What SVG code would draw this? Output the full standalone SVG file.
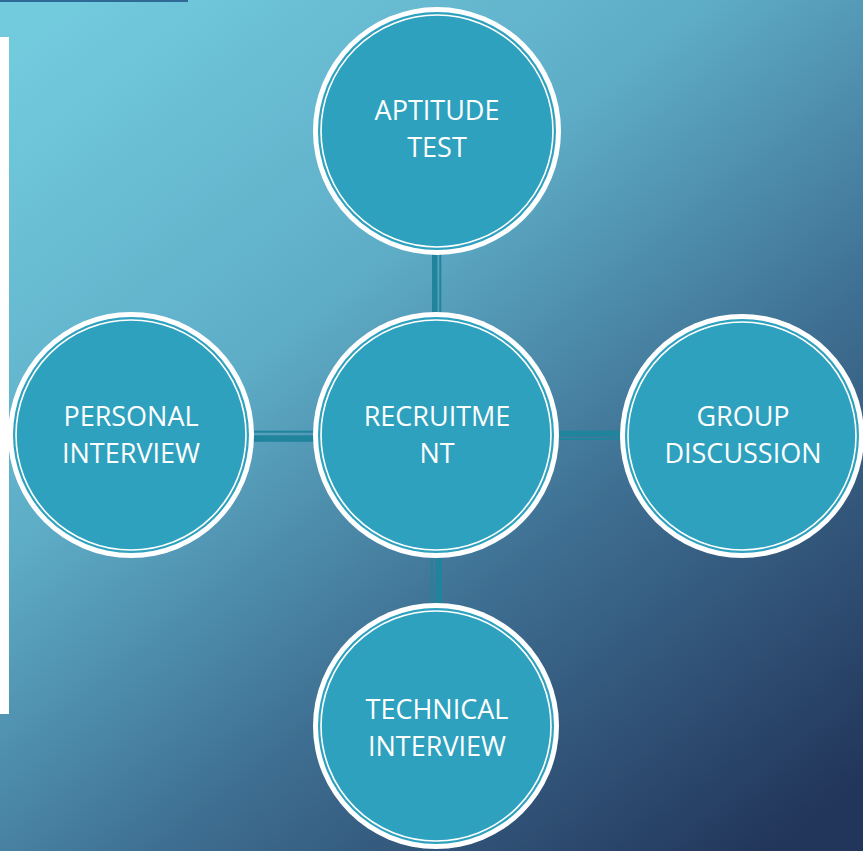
<svg xmlns="http://www.w3.org/2000/svg" width="863" height="851" viewBox="0 0 863 851">
<defs>
<linearGradient id="bg" x1="0.1" y1="0" x2="0.9" y2="1">
<stop offset="0" stop-color="#72cadd"/>
<stop offset="0.35" stop-color="#5eadc7"/>
<stop offset="0.65" stop-color="#3e6f92"/>
<stop offset="1" stop-color="#22355a"/>
</linearGradient>
<style>
.ring{fill:#ffffff}
.gap{fill:#2ea1be}
.inner{fill:none;stroke:#ffffff;stroke-width:1.6}
.lbl{font-family:"Open Sans","DejaVu Sans",sans-serif;font-size:27px;fill:#ffffff;text-anchor:middle}
.con{fill:#1f849c}
</style>
</defs>
<rect width="863" height="851" fill="url(#bg)"/>
<rect x="0" y="0" width="188" height="2" fill="#2f6a96"/>
<rect x="0" y="37" width="9" height="677" fill="#ffffff"/>
<g id="connectors">
<rect class="con" x="432" y="254" width="5.5" height="66"/>
<rect class="con" x="439.3" y="254" width="2" height="66"/>
<rect class="con" x="254" y="430.7" width="66" height="2"/>
<rect class="con" x="254" y="435.3" width="66" height="6.5"/>
<rect class="con" x="554" y="430.7" width="67" height="6"/>
<rect class="con" x="554" y="438" width="67" height="2"/>
<rect class="con" x="431" y="553" width="2" height="54"/>
<rect class="con" x="435.7" y="553" width="6.3" height="54"/>
</g>
<g id="aptitude">
<circle class="ring" cx="437" cy="131" r="124"/>
<circle class="gap" cx="437" cy="131" r="119"/>
<circle class="inner" cx="437" cy="131" r="116"/>
<text class="lbl" x="437" y="120">APTITUDE</text>
<text class="lbl" x="437" y="157">TEST</text>
</g>
<g id="recruitment">
<circle class="ring" cx="436" cy="435" r="123"/>
<circle class="gap" cx="436" cy="435" r="118"/>
<circle class="inner" cx="436" cy="435" r="115"/>
<text class="lbl" x="437" y="426">RECRUITME</text>
<text class="lbl" x="437" y="463">NT</text>
</g>
<g id="personal">
<circle class="ring" cx="131" cy="435" r="123"/>
<circle class="gap" cx="131" cy="435" r="118"/>
<circle class="inner" cx="131" cy="435" r="115"/>
<text class="lbl" x="131" y="426">PERSONAL</text>
<text class="lbl" x="131" y="463">INTERVIEW</text>
</g>
<g id="group">
<circle class="ring" cx="742" cy="436" r="122"/>
<circle class="gap" cx="742" cy="436" r="117"/>
<circle class="inner" cx="742" cy="436" r="114"/>
<text class="lbl" x="743" y="426">GROUP</text>
<text class="lbl" x="743" y="463">DISCUSSION</text>
</g>
<g id="technical">
<circle class="ring" cx="436" cy="726" r="123"/>
<circle class="gap" cx="436" cy="726" r="118"/>
<circle class="inner" cx="436" cy="726" r="115"/>
<text class="lbl" x="437" y="719">TECHNICAL</text>
<text class="lbl" x="437" y="756">INTERVIEW</text>
</g>
</svg>
